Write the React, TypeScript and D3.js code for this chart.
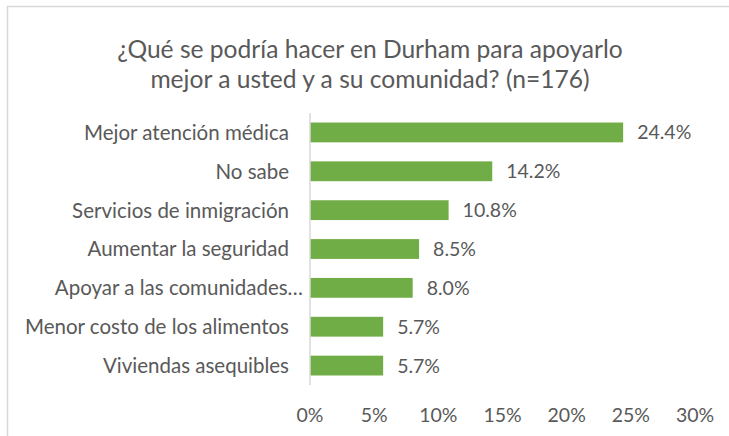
import React from "react";
import * as d3 from "d3";

const categories = [
  "Mejor atención médica",
  "No sabe",
  "Servicios de inmigración",
  "Aumentar la seguridad",
  "Apoyar a las comunidades…",
  "Menor costo de los alimentos",
  "Viviendas asequibles",
];
const values = [24.4, 14.2, 10.8, 8.5, 8.0, 5.7, 5.7];
const tickValues = [0, 5, 10, 15, 20, 25, 30];
const titleLines = [
  "¿Qué se podría hacer en Durham para apoyarlo",
  "mejor a usted y a su comunidad? (n=176)",
];

const W = 729;
const H = 436;
const FONT = "Lato, 'Open Sans', sans-serif";
const TEXT = "#595959";

export default function App() {
  const x = d3.scaleLinear().domain([0, 30]).range([310, 695]);
  const y = d3
    .scaleBand<string>()
    .domain(categories)
    .range([113, 385])
    .paddingInner(0.49)
    .paddingOuter(0.245);

  return (
    <svg
      width={W}
      height={H}
      style={{ position: "absolute", left: 0, top: 0, background: "#fff" }}
      fontFamily={FONT}
    >
      <rect x={7.5} y={6.5} width={W + 10} height={H + 10} fill="#fff" stroke="#d9d9d9" strokeWidth={1.5} />
      {titleLines.map((t, i) => (
        <text key={i} x={370} y={58 + i * 30} textAnchor="middle" fontSize={24.6} fill={TEXT}>
          {t}
        </text>
      ))}
      {categories.map((c, i) => {
        const yc = (y(c) as number) + y.bandwidth() / 2;
        const truncated = c.endsWith("…");
        return (
          <g key={c}>
            <rect x={x(0)} y={y(c)} width={x(values[i]) - x(0)} height={y.bandwidth()} fill="#70AD47" />
            <text
              x={x(0) - (truncated ? 7 : 21)}
              y={yc}
              dy="0.36em"
              textAnchor="end"
              fontSize={20.5}
              fill={TEXT}
            >
              {c}
            </text>
            <text x={x(values[i]) + 14} y={yc} dy="0.36em" fontSize={19.5} fill={TEXT}>
              {values[i].toFixed(1) + "%"}
            </text>
          </g>
        );
      })}
      <line x1={x(0)} x2={x(0)} y1={113} y2={385} stroke="#d9d9d9" strokeWidth={1.5} />
      {tickValues.map((t) => (
        <text key={t} x={x(t)} y={414.5} dy="0.36em" textAnchor="middle" fontSize={19.5} fill={TEXT}>
          {t + "%"}
        </text>
      ))}
    </svg>
  );
}
